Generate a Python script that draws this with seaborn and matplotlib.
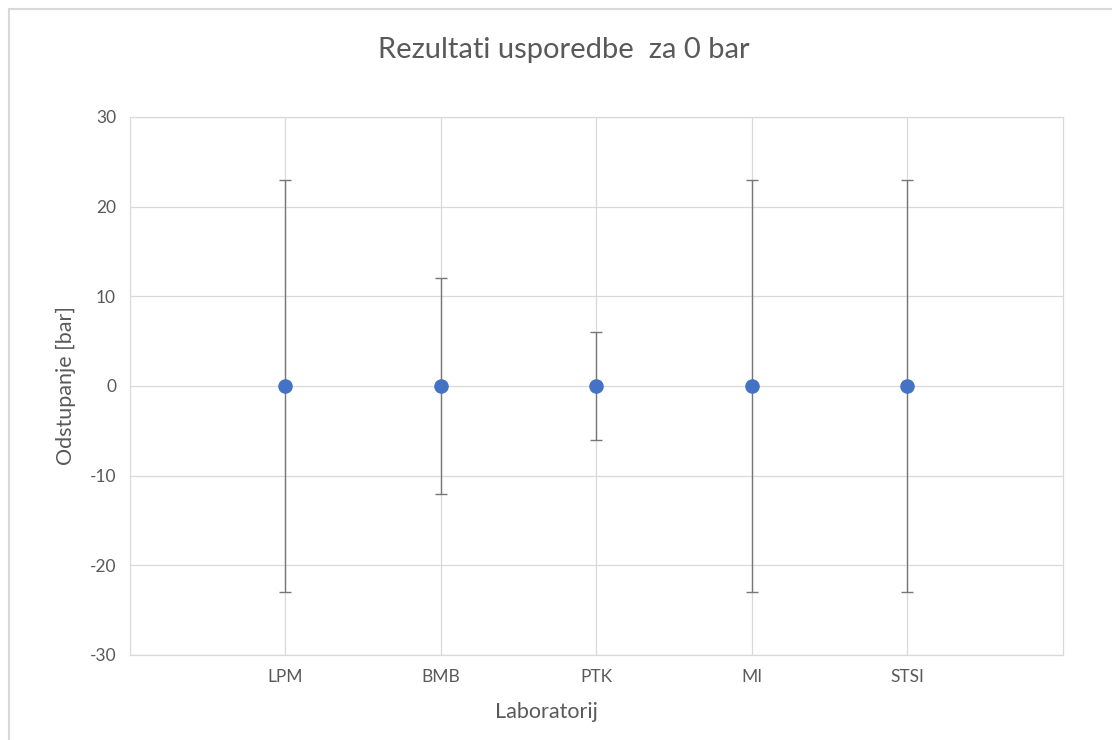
"""Comparison results at 0 bar: deviation with uncertainty per laboratory."""

import matplotlib.pyplot as plt
import seaborn as sns
from matplotlib.patches import Rectangle

labs = ["LPM", "BMB", "PTK", "MI", "STSI"]
deviation = [0, 0, 0, 0, 0]
uncertainty = [23, 12, 6, 23, 23]
y_ticks = [-30, -20, -10, 0, 10, 20, 30]

text_col = "#595959"
grid_col = "#d9d9d9"

sns.set_theme(style="white")
plt.rcParams["font.family"] = ["Lato", "DejaVu Sans"]
plt.rcParams["axes.unicode_minus"] = False

fig = plt.figure(figsize=(11.12, 7.4), dpi=100)
ax = fig.add_axes([0.1169, 0.1149, 0.839, 0.727])

# outer chart border (clipped at right/bottom like the screenshot)
fig.add_artist(Rectangle((9 / 1112, -0.05), 1.2, (740 - 9) / 740 + 0.05,
                         transform=fig.transFigure, fill=False,
                         edgecolor=grid_col, linewidth=1.5))

ax.errorbar(labs, deviation, yerr=uncertainty, fmt="none",
            ecolor="#767676", elinewidth=1.0, capsize=4.5, capthick=1.0,
            zorder=2)
sns.scatterplot(x=labs, y=deviation, ax=ax, color="#4472c4", s=110,
                edgecolor="#4472c4", linewidth=0, zorder=3)

ax.set_xlim(-1, len(labs))
ax.set_ylim(y_ticks[0], y_ticks[-1])
ax.set_yticks(y_ticks)
ax.grid(True, color=grid_col, linewidth=0.9)
ax.set_axisbelow(True)
for s in ax.spines.values():
    s.set_color(grid_col)
    s.set_linewidth(0.9)
ax.tick_params(axis="both", length=0, colors=text_col, labelsize=12.5, pad=10)

# title and x label are centred on the whole chart, not on the plot area
fig.suptitle("Rezultati usporedbe  za 0 bar", x=0.507, y=0.932, va="center",
             fontsize=21, color=text_col)
ax.set_ylabel("Odstupanje [bar]", fontsize=15.5, color=text_col, labelpad=10)
ax.set_xlabel("Laboratorij", fontsize=15.5, color=text_col)
ax.xaxis.set_label_coords(0.446, -0.087)

fig.savefig("out.png", dpi=100)
